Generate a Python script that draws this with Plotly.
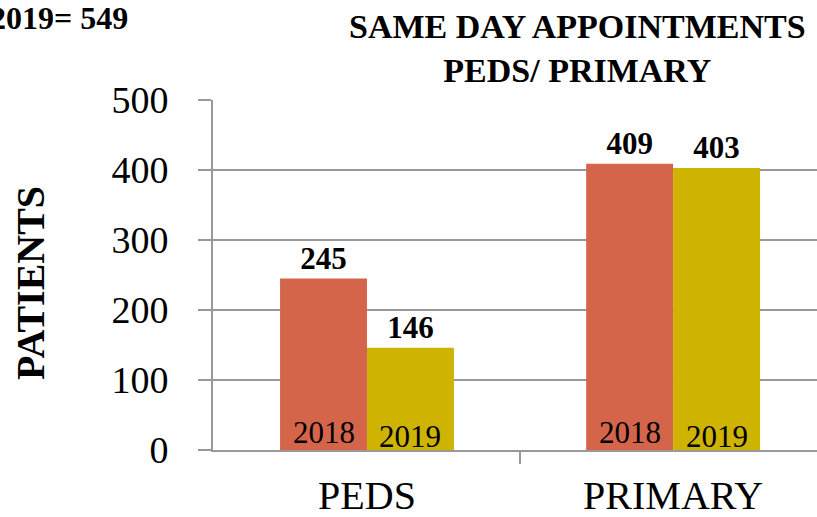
import plotly.graph_objects as go

categories = ["PEDS", "PRIMARY"]
years = ["2018", "2019"]
values_2018 = [245, 409]
values_2019 = [146, 403]
y_ticks = [0, 100, 200, 300, 400, 500]
title_lines = ["SAME DAY APPOINTMENTS", "PEDS/ PRIMARY"]
total_note = "2019= 549"
y_title = "PATIENTS"

colors = {"2018": "#D4654B", "2019": "#CEB400"}
series = {"2018": values_2018, "2019": values_2019}

SERIF = "Liberation Serif"
BAR_W = 0.284
xpos = list(range(len(categories)))

fig = go.Figure()
offsets = {"2018": -BAR_W, "2019": 0.0}
for yr in years:
    fig.add_trace(go.Bar(
        x=xpos, y=series[yr], width=BAR_W, offset=offsets[yr],
        marker=dict(color=colors[yr], line=dict(width=0)),
        text=[f"<b>{v}</b>" for v in series[yr]], textposition="outside",
        textfont=dict(family=SERIF, size=31, color="black"),
        cliponaxis=False, showlegend=False, name=yr,
    ))

annotations = []
for yr, shift in (("2018", 18), ("2019", 14)):
    for i in xpos:
        annotations.append(dict(
            x=i + offsets[yr] + BAR_W / 2, y=0, xref="x", yref="y",
            text=yr, showarrow=False, yanchor="middle", yshift=shift,
            font=dict(family=SERIF, size=31, color="black"),
        ))

annotations.append(dict(
    x=0.604, y=1.147, xref="paper", yref="paper",
    text="<br>".join(f"<b>{t}</b>" for t in title_lines), showarrow=False,
    xanchor="center", yanchor="middle",
    font=dict(family=SERIF, size=34, color="black"),
))
annotations.append(dict(
    x=(130 - 213) / 604, y=(450 - 18) / 350, xref="paper", yref="paper",
    text=f"<b>{total_note}</b>", showarrow=False, xanchor="right", yanchor="middle",
    font=dict(family=SERIF, size=32, color="black"),
))
annotations.append(dict(
    x=(30 - 213) / 604, y=(450 - 283) / 350, xref="paper", yref="paper",
    text=f"<b>{y_title}</b>", showarrow=False, textangle=-90,
    xanchor="center", yanchor="middle",
    font=dict(family=SERIF, size=40, color="black"),
))

fig.update_layout(
    width=817, height=517,
    margin=dict(l=213, r=0, t=100, b=67),
    paper_bgcolor="white", plot_bgcolor="white",
    annotations=annotations,
    xaxis=dict(
        range=[-0.503, 1.47], tickvals=xpos, ticktext=categories,
        ticks="", showgrid=False, zeroline=False, automargin=False,
        showline=True, linecolor="#999999", linewidth=2,
        tickfont=dict(family=SERIF, size=40, color="black"),
        ticklabelstandoff=9,
        minor=dict(tickvals=[0.5], ticks="outside", ticklen=12,
                   tickcolor="#999999", tickwidth=2, showgrid=False),
    ),
    yaxis=dict(
        range=[0, 500], tickvals=y_ticks, automargin=False,
        ticks="outside", ticklen=13, tickcolor="#999999", tickwidth=2,
        showline=True, linecolor="#999999", linewidth=2,
        showgrid=True, gridcolor="#999999", gridwidth=2,
        zeroline=False,
        tickfont=dict(family=SERIF, size=38, color="black"),
        ticklabelstandoff=22,
    ),
)

fig.write_html("out.html", config={"displayModeBar": False},
               post_script="document.body.style.margin='0';")
